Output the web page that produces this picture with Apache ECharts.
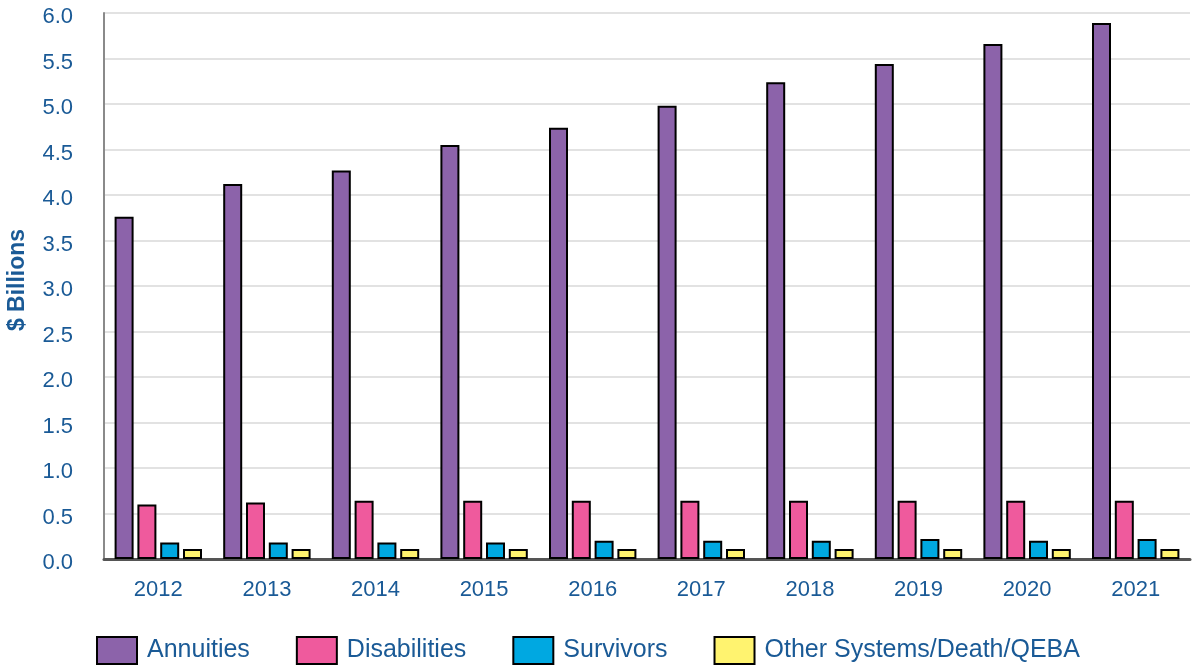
<!DOCTYPE html>
<html>
<head>
<meta charset="utf-8">
<script src="https://cdn.jsdelivr.net/npm/echarts@6/dist/echarts.min.js"></script>
<style>
    html, body { margin: 0; padding: 0; background: #fff; }
    #chart { width: 1192px; height: 667px; }
</style>
</head>
<body>
<div id="chart"></div>
<script>
// values ($ billions)
const years = ['2012', '2013', '2014', '2015', '2016', '2017', '2018', '2019', '2020', '2021']
const annuities = [3.76, 4.12, 4.27, 4.55, 4.74, 4.98, 5.24, 5.44, 5.66, 5.89]
const disabilities = [0.60, 0.62, 0.64, 0.64, 0.64, 0.64, 0.64, 0.64, 0.64, 0.64]
const survivors = [0.18, 0.18, 0.18, 0.18, 0.20, 0.20, 0.20, 0.22, 0.20, 0.22]
const otherSystems = [0.11, 0.11, 0.11, 0.11, 0.11, 0.11, 0.11, 0.11, 0.11, 0.11]

const textBlue = '#1a5a96'
const fontFamily = '"Liberation Sans", Arial, sans-serif'

function makeBar(name, values, color) {
    return {
        name: name,
        type: 'bar',
        data: values,
        barWidth: 19,
        barGap: '20%',
        itemStyle: {
            color: color,
            borderColor: '#000000',
            borderWidth: 2
        }
    }
}

let chart = echarts.init(document.getElementById('chart'))

chart.setOption({
    animation: false,
    textStyle: { fontFamily: fontFamily },
    grid: { left: 104, right: 2, top: 13, bottom: 108, containLabel: false, outerBoundsMode: 'none' },
    legend: {
        left: 96,
        top: 636,
        padding: 0,
        itemWidth: 40,
        itemHeight: 27,
        itemGap: 46,
        icon: 'rect',
        textStyle: {
            color: textBlue,
            fontSize: 25,
            fontFamily: fontFamily,
            padding: [0, 0, 0, 5]
        }
    },
    xAxis: {
        type: 'category',
        data: years,
        axisTick: { show: false },
        axisLine: { lineStyle: { color: '#555555', width: 3 } },
        axisLabel: { color: textBlue, fontSize: 22, margin: 20, fontFamily: fontFamily }
    },
    yAxis: {
        type: 'value',
        min: 0,
        max: 6,
        interval: 0.5,
        name: '$ Billions',
        nameLocation: 'middle',
        nameGap: 75,
        nameTextStyle: {
            color: textBlue,
            fontSize: 23,
            fontWeight: 'bold',
            fontFamily: fontFamily,
            padding: [0, 0, 0, 12]
        },
        axisLine: { show: true, lineStyle: { color: '#8a8a8a', width: 2 } },
        axisTick: { show: false },
        axisLabel: {
            color: textBlue,
            fontSize: 22,
            margin: 31,
            fontFamily: fontFamily,
            lineHeight: 30,
            verticalAlign: 'top',
            padding: [-11, 0, 0, 0],
            formatter: (v) => v.toFixed(1)
        },
        splitLine: { lineStyle: { color: '#e2e2e2', width: 2 } }
    },
    series: [
        makeBar('Annuities', annuities, '#8c63aa'),
        makeBar('Disabilities', disabilities, '#ef5a9d'),
        makeBar('Survivors', survivors, '#00a8e1'),
        makeBar('Other Systems/Death/QEBA', otherSystems, '#fff36f')
    ]
})
</script>
</body>
</html>
